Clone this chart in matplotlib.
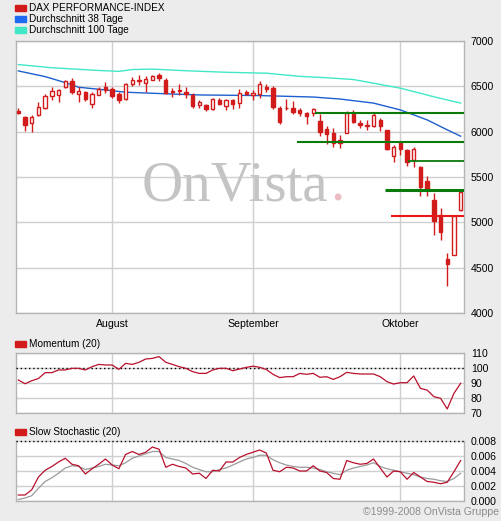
"""
DAX Performance-Index Kerzenchart mit Momentum und Slow Stochastic
"""

import matplotlib
matplotlib.use("Agg")
import matplotlib.pyplot as plt
from matplotlib.patches import Rectangle
import numpy as np

plt.rcParams["font.family"] = ["Liberation Sans", "DejaVu Sans"]

# Handelstage 14.07.2008 - 14.10.2008 (Index 0..66)
month_labels = ["August", "September", "Oktober"]
month_start_idx = [14, 35, 57]

opens = [6230, 6165, 6100, 6185, 6265, 6390, 6405, 6490, 6560, 6415,
         6440, 6305, 6405, 6490, 6470, 6415, 6355, 6530, 6565, 6540,
         6575, 6625, 6570, 6450, 6460, 6440, 6400, 6295, 6295, 6245,
         6345, 6280, 6345, 6315, 6440, 6400, 6415, 6495, 6480, 6260,
         6265, 6260, 6240, 6210, 6205, 6120, 6030, 5985, 5905, 5985,
         6195, 6100, 6075, 6060, 6130, 6015, 5730, 5880, 5800, 5685,
         5610, 5460, 5250, 5080, 4600, 4640, 5135]
highs = [6260, 6175, 6180, 6330, 6415, 6495, 6470, 6570, 6590, 6495,
         6445, 6435, 6495, 6550, 6490, 6440, 6540, 6600, 6620, 6615,
         6630, 6645, 6590, 6480, 6530, 6490, 6425, 6350, 6310, 6370,
         6375, 6365, 6365, 6470, 6465, 6460, 6560, 6530, 6505, 6280,
         6360, 6340, 6265, 6215, 6265, 6190, 6065, 6040, 5965, 6230,
         6235, 6130, 6125, 6205, 6150, 6020, 5855, 5890, 5810, 5830,
         5625, 5515, 5325, 5160, 4665, 5070, 5350]
lows = [6200, 6012, 6000, 6175, 6250, 6345, 6325, 6485, 6420, 6330,
        6340, 6265, 6400, 6425, 6370, 6320, 6345, 6500, 6515, 6435,
        6565, 6555, 6420, 6380, 6405, 6370, 6260, 6260, 6230, 6235,
        6290, 6240, 6255, 6265, 6400, 6350, 6375, 6440, 6255, 6085,
        6240, 6195, 6175, 6090, 6170, 5950, 5865, 5830, 5820, 5980,
        6100, 6045, 6015, 6050, 6005, 5800, 5660, 5745, 5625, 5615,
        5295, 5295, 4865, 4810, 4300, 4640, 5130]
closes = [6205, 6075, 6160, 6275, 6395, 6445, 6455, 6555, 6440, 6450,
          6355, 6410, 6470, 6465, 6395, 6350, 6525, 6570, 6555, 6580,
          6615, 6595, 6425, 6435, 6445, 6420, 6285, 6330, 6245, 6355,
          6300, 6350, 6310, 6425, 6420, 6430, 6525, 6470, 6270, 6110,
          6260, 6215, 6205, 6175, 6245, 6000, 5975, 5875, 5880, 6210,
          6110, 6070, 6065, 6185, 6065, 5810, 5835, 5805, 5660, 5805,
          5390, 5360, 5010, 4890, 4545, 5070, 5340]

ma38_idx = [0, 4, 7, 9, 13, 16, 22, 27, 36, 44, 48, 53, 57, 61, 64, 66]
ma38_val = [6670, 6607, 6541, 6490, 6460, 6435, 6418, 6405, 6398, 6382,
            6360, 6315, 6240, 6130, 6020, 5950]
ma100_idx = [0, 5, 12, 15, 17, 20, 25, 31, 37, 42, 46, 50, 57, 62, 66]
ma100_val = [6740, 6705, 6675, 6665, 6685, 6690, 6672, 6655, 6645, 6610,
             6595, 6575, 6480, 6385, 6315]

# Unterstuetzungs-/Widerstandslinien
green_levels = [6210, 5890, 5680, 5360]
green_start = [44.3, 41.6, 58.1, 54.7]
green_width = [1.5, 1.5, 1.3, 2.2]
red_level = 5072
red_start = 55.6

momentum = [92, 89.5, 91.5, 93, 96.9, 96.9, 98.7, 98.7, 99.8, 99.8,
            98.7, 100.9, 102.4, 102, 102, 99.1, 103.1, 102.4, 103.8, 106,
            106.4, 107.6, 103.8, 102.4, 100.9, 99.8, 97.6, 96.4, 96.4, 98.7,
            99.8, 99.8, 98.2, 99.3, 100.4, 101.2, 100.5, 99, 95.8, 93.6,
            94.2, 94.2, 96.4, 95.8, 96.4, 93.8, 94.2, 92.4, 94.2, 97.1,
            96.4, 96, 96, 96, 94.2, 90.9, 89.3, 90.2, 90.2, 94.7,
            86.4, 85.3, 80.9, 79.8, 72.7, 83.1, 89.8]

stoch_k = [0.0008, 0.0008, 0.0015, 0.0032, 0.0041, 0.0046, 0.0052, 0.0057, 0.0049, 0.0047,
           0.0036, 0.0043, 0.0049, 0.0056, 0.0048, 0.0043, 0.0062, 0.0066, 0.0062, 0.0065,
           0.0072, 0.0069, 0.0045, 0.0049, 0.0046, 0.0044, 0.0036, 0.0037, 0.0030, 0.0041,
           0.0040, 0.0052, 0.0052, 0.0058, 0.0062, 0.0065, 0.0068, 0.0064, 0.0041, 0.0039,
           0.0045, 0.0044, 0.0040, 0.0040, 0.0047, 0.0040, 0.0038, 0.0030, 0.0029, 0.0054,
           0.0051, 0.0049, 0.0050, 0.0056, 0.0044, 0.0032, 0.0040, 0.0039, 0.0029, 0.0038,
           0.0032, 0.0026, 0.0025, 0.0023, 0.0025, 0.0039, 0.0054]
stoch_d = [0.0002, 0.0004, 0.0007, 0.0017, 0.0026, 0.0031, 0.0037, 0.0044, 0.0047, 0.0046,
           0.0042, 0.0044, 0.0046, 0.0049, 0.0048, 0.0047, 0.0051, 0.0057, 0.0060, 0.0063,
           0.0066, 0.0066, 0.0058, 0.0056, 0.0054, 0.0050, 0.0045, 0.0042, 0.0039, 0.0039,
           0.0042, 0.0044, 0.0048, 0.0052, 0.0056, 0.0058, 0.0061, 0.0061, 0.0055, 0.0051,
           0.0048, 0.0046, 0.0045, 0.0045, 0.0044, 0.0042, 0.0039, 0.0037, 0.0035, 0.0041,
           0.0044, 0.0046, 0.0048, 0.0051, 0.0046, 0.0043, 0.0041, 0.0039, 0.0037, 0.0035,
           0.0032, 0.0030, 0.0029, 0.0027, 0.0026, 0.0030, 0.0037]

RED = "#D21C1C"
BLUE = "#1E5FD0"
CYAN = "#40E8C8"
GREEN = "#0A7A0A"
GRID = "#CFCFCF"
EDGE = "#B4B4B4"
BG = "#ECECEC"
FS = 7.6

W, H = 501, 521
XLIM = (-0.35, 66.5)


def box(l, t, r, b):
    return [l / W, 1 - b / H, (r - l) / W, (b - t) / H]


def style_panel(ax, yticks, fmt):
    ax.set_facecolor("white")
    for s in ax.spines.values():
        s.set_color(EDGE)
        s.set_linewidth(1)
    ax.set_xlim(*XLIM)
    ax.set_xticks(month_start_idx)
    ax.set_xticklabels([])
    ax.yaxis.tick_right()
    ax.set_yticks(yticks)
    ax.set_yticklabels([fmt(v) for v in yticks])
    ax.tick_params(length=0, labelsize=FS, pad=5, colors="black")
    ax.grid(True, color=GRID, lw=1)
    ax.set_axisbelow(True)


fig = plt.figure(figsize=(W / 100, H / 100), dpi=100, facecolor=BG)

# --- Hauptchart ---
ax = fig.add_axes(box(16, 41, 464, 313))
style_panel(ax, np.arange(4000, 7001, 500), lambda v: f"{v:d}")
ax.set_ylim(4000, 7000)
ax.set_xticklabels(month_labels)
ax.tick_params(axis="x", pad=4)

# Wasserzeichen
ax.text(0.696, 0.415, "OnVista", transform=ax.transAxes, ha="right", va="baseline",
        fontsize=41, family="Liberation Serif", color="#C4C4C4", zorder=1)
ax.text(0.701, 0.415, ".", transform=ax.transAxes, ha="left", va="baseline",
        fontsize=41, family="Liberation Serif", color="#EBBCC4", zorder=1)

ax.plot(ma100_idx, ma100_val, color=CYAN, lw=1, zorder=2)
ax.plot(ma38_idx, ma38_val, color=BLUE, lw=1, zorder=2)

idx = np.arange(len(closes))
o, hi, lo, c = (np.array(a, dtype=float) for a in (opens, highs, lows, closes))
up = c >= o
ax.vlines(idx, lo, hi, color=RED, lw=1, zorder=3)
ax.bar(idx[up], (c - o)[up], bottom=o[up], width=0.5, facecolor="white",
       edgecolor=RED, lw=1, zorder=4)
ax.bar(idx[~up], (o - c)[~up], bottom=c[~up], width=0.5, facecolor=RED,
       edgecolor=RED, lw=1, zorder=4)

for lev, st, lw in zip(green_levels, green_start, green_width):
    ax.hlines(lev, st, XLIM[1], color=GREEN, lw=lw, zorder=5)
ax.hlines(red_level, red_start, XLIM[1], color="#E81818", lw=1.5, zorder=5)

# --- Momentum ---
axm = fig.add_axes(box(16, 353, 464, 413))
style_panel(axm, np.arange(70, 111, 10), lambda v: f"{v:d}")
axm.set_ylim(70, 110)
axm.axhline(100, color="black", lw=1, ls=(0, (1, 2)), zorder=3)
axm.plot(idx, momentum, color="#B8102C", lw=0.9, zorder=4)

# --- Slow Stochastic ---
axs = fig.add_axes(box(16, 441, 464, 501))
style_panel(axs, [0, 0.002, 0.004, 0.006, 0.008], lambda v: f"{v:.3f}")
axs.set_ylim(0, 0.008)
axs.spines["top"].set_visible(False)
axs.axhline(0.008, color="black", lw=1, ls=(0, (1, 2)), zorder=3, clip_on=False)
axs.plot(idx, stoch_d, color="#9A9A9A", lw=0.9, zorder=3)
axs.plot(idx, stoch_k, color="#B8102C", lw=0.9, zorder=4)

# --- Legenden ---
legend_rows = [
    (8, RED, "DAX PERFORMANCE-INDEX"),
    (19, "#1E6AF0", "Durchschnitt 38 Tage"),
    (30, CYAN, "Durchschnitt 100 Tage"),
    (344, RED, "Momentum (20)"),
    (432, RED, "Slow Stochastic (20)"),
]
for y, col, txt in legend_rows:
    fig.patches.append(Rectangle((15 / W, 1 - (y + 3) / H), 11 / W, 6 / H,
                                 transform=fig.transFigure, color=col))
    fig.text(29 / W, 1 - y / H, txt, fontsize=7.2, va="center", ha="left")

fig.text(499 / W, 1 - 512 / H, "\u00a91999-2008 OnVista Gruppe", fontsize=FS,
         color="#8C8C8C", ha="right", va="center")

fig.savefig("out.png", dpi=100, facecolor=BG)
